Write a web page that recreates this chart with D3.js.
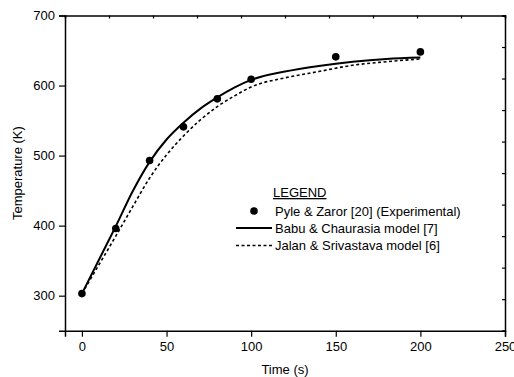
<!DOCTYPE html>
<html>
<head>
    <script src="https://d3js.org/d3.v7.min.js"></script>
    <style>
        body { margin: 0; background: #fff; }
        text { font-family: "Liberation Sans", Arial, sans-serif; fill: #000; }
    </style>
</head>
<body>
<script>
    // experimental points
    let expTime = [0, 20, 40, 60, 80, 100, 150, 200];
    let expTemp = [303, 396, 493, 541, 581, 609, 641, 648];

    // model curves
    let modelTime = [0, 10, 20, 30, 40, 50, 60, 70, 80, 90, 100, 120, 140, 160, 180, 200];
    let babuTemp  = [303, 351, 399, 449, 491, 523, 547, 567, 583, 597, 608, 620, 628, 634, 638, 640];
    let jalanTemp = [303, 344, 385, 427, 468, 501, 528, 551, 570, 585, 598, 611, 620, 629, 634, 638];

    let xTicks = [0, 50, 100, 150, 200, 250];
    let yTicks = [300, 400, 500, 600, 700];

    let legendLabels = [
        "Pyle & Zaror [20] (Experimental)",
        "Babu & Chaurasia model [7]",
        "Jalan & Srivastava model [6]"
    ];

    let width = 514;
    let height = 377;
    let plotLeft = 65, plotRight = 505, plotTop = 15.5, plotBottom = 330.7;

    let svg = d3.select("body").append("svg")
        .attr("width", width)
        .attr("height", height);

    let x = d3.scaleLinear().domain([-10, 250]).range([plotLeft, plotRight]);
    let y = d3.scaleLinear().domain([250, 700]).range([plotBottom, plotTop]);

    // frame axes
    let xAxis = svg.append("g")
        .attr("transform", `translate(0,${plotBottom})`)
        .call(d3.axisBottom(x).tickValues(xTicks).tickSize(6).tickPadding(5).tickFormat(d3.format("d")));

    let yAxis = svg.append("g")
        .attr("transform", `translate(${plotLeft},0)`)
        .call(d3.axisLeft(y).tickValues(yTicks).tickSize(6).tickPadding(4).tickFormat(d3.format("d")));

    // unlabeled minor ticks on top and right
    let topScale = d3.scaleLinear().domain([0, 10]).range([plotLeft, plotRight]);
    let rightScale = d3.scaleLinear().domain([0, 10]).range([plotBottom, plotTop]);

    let topAxis = svg.append("g")
        .attr("transform", `translate(0,${plotTop})`)
        .call(d3.axisTop(topScale).ticks(10).tickSize(-3).tickFormat(""));

    let rightAxis = svg.append("g")
        .attr("transform", `translate(${plotRight},0)`)
        .call(d3.axisRight(rightScale).ticks(10).tickSize(-3).tickFormat(""));

    [xAxis, yAxis, topAxis, rightAxis].forEach(g => {
        g.select(".domain").attr("stroke", "#000").attr("stroke-width", 1.5);
        g.selectAll(".tick line").attr("stroke", "#000").attr("stroke-width", 1.2);
    });
    [xAxis, yAxis].forEach(g => {
        g.selectAll(".tick text")
            .attr("font-size", 13)
            .attr("font-family", "Liberation Sans, Arial, sans-serif")
            .attr("fill", "#000");
    });

    // axis titles
    svg.append("text")
        .attr("x", (plotLeft + plotRight) / 2)
        .attr("y", 374)
        .attr("text-anchor", "middle")
        .attr("font-size", 13)
        .text("Time (s)");

    svg.append("text")
        .attr("transform", `translate(22,${(plotTop + plotBottom) / 2}) rotate(-90)`)
        .attr("text-anchor", "middle")
        .attr("font-size", 13)
        .text("Temperature (K)");

    let line = d3.line()
        .x(d => x(d[0]))
        .y(d => y(d[1]))
        .curve(d3.curveMonotoneX);

    svg.append("path")
        .datum(modelTime.map((t, i) => [t, jalanTemp[i]]))
        .attr("d", line)
        .attr("fill", "none")
        .attr("stroke", "#000")
        .attr("stroke-width", 1.6)
        .attr("stroke-dasharray", "3,2.5");

    svg.append("path")
        .datum(modelTime.map((t, i) => [t, babuTemp[i]]))
        .attr("d", line)
        .attr("fill", "none")
        .attr("stroke", "#000")
        .attr("stroke-width", 2);

    svg.selectAll(".pt")
        .data(expTime.map((t, i) => [t, expTemp[i]]))
        .join("circle")
        .attr("class", "pt")
        .attr("cx", d => x(d[0]))
        .attr("cy", d => y(d[1]))
        .attr("r", 3.8)
        .attr("fill", "#000");

    // legend
    let lg = svg.append("g").attr("transform", "translate(236,0)");

    lg.append("text")
        .attr("x", 37)
        .attr("y", 197)
        .attr("font-size", 13)
        .attr("text-decoration", "underline")
        .text("LEGEND");

    let rows = [211, 228, 245.5];

    lg.append("circle")
        .attr("cx", 18)
        .attr("cy", rows[0])
        .attr("r", 3.8)
        .attr("fill", "#000");

    lg.append("line")
        .attr("x1", 0).attr("x2", 36)
        .attr("y1", rows[1]).attr("y2", rows[1])
        .attr("stroke", "#000")
        .attr("stroke-width", 2);

    lg.append("line")
        .attr("x1", 0).attr("x2", 36)
        .attr("y1", rows[2]).attr("y2", rows[2])
        .attr("stroke", "#000")
        .attr("stroke-width", 1.6)
        .attr("stroke-dasharray", "3,2.5");

    lg.selectAll(".lgtext")
        .data(legendLabels)
        .join("text")
        .attr("class", "lgtext")
        .attr("x", 39)
        .attr("y", (d, i) => rows[i] + 4.5)
        .attr("font-size", 13)
        .text(d => d);
</script>
</body>
</html>
